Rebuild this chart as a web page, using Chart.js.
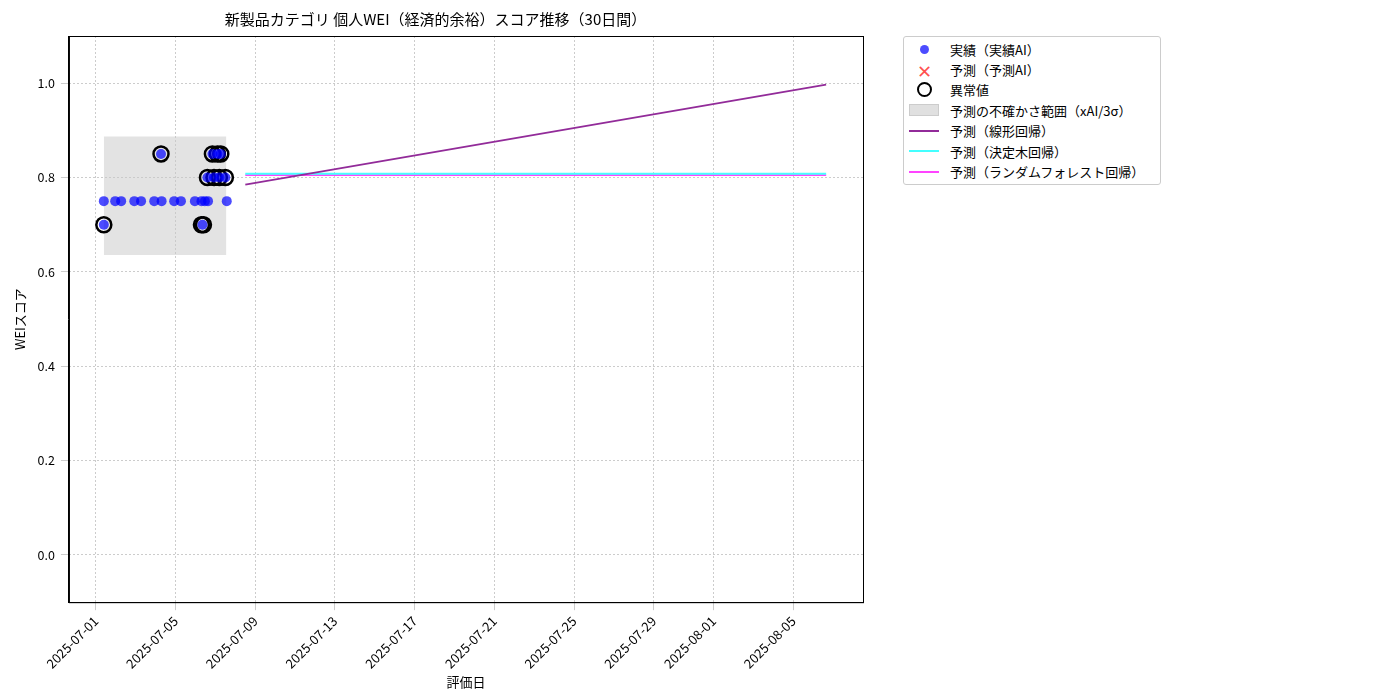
<!DOCTYPE html><html><head><meta charset="utf-8">
<script src="https://cdn.jsdelivr.net/npm/chart.js@4"></script>
<style>body{margin:0;background:#fff;font-family:"Noto Sans CJK JP",sans-serif}
#lg{position:absolute;left:903px;top:36px;width:256px;border:1px solid #ccc;border-radius:3px;padding:2px 0;font-size:13px;background:#fff}
.r{height:20.4px;display:flex;align-items:center}.s{width:40px;display:flex;justify-content:center;margin-right:6px}</style></head><body>
<div style="position:relative;width:1400px;height:700px"><canvas id="c" width="1400" height="700"></canvas>
<div id="lg">
<div class="r"><div class="s"><span style="width:9px;height:9px;border-radius:50%;background:rgba(0,0,255,0.7)"></span></div>実績（実績AI）</div>
<div class="r"><div class="s"><span style="color:rgba(255,0,0,0.7);font-size:18px;line-height:10px">✕</span></div>予測（予測AI）</div>
<div class="r"><div class="s"><span style="width:11px;height:11px;border-radius:50%;border:2.5px solid #000"></span></div>異常値</div>
<div class="r"><div class="s"><span style="width:28px;height:10px;background:#e0e0e0;border:1px solid #ccc"></span></div>予測の不確かさ範囲（xAI/3σ）</div>
<div class="r"><div class="s"><span style="width:30px;height:2px;background:#922b99"></span></div>予測（線形回帰）</div>
<div class="r"><div class="s"><span style="width:30px;height:2px;background:#4ff"></span></div>予測（決定木回帰）</div>
<div class="r"><div class="s"><span style="width:30px;height:2px;background:#f4f"></span></div>予測（ランダムフォレスト回帰）</div>
</div></div>
<script>
const startDate=Date.UTC(2025,6,1);
const actualDays=[0.4,0.97,1.27,1.93,2.27,2.93,3.27,3.3,3.93,4.27,4.97,5.3,5.35,5.47,5.63,5.6,5.85,5.93,6.1,6.2,6.27,6.5,6.57,0.4];
const actualVals=[0.75,0.75,0.75,0.75,0.75,0.75,0.85,0.75,0.75,0.75,0.75,0.75,0.70,0.75,0.75,0.80,0.85,0.80,0.85,0.80,0.85,0.80,0.75,0.70];
const outDays=[0.4,3.27,5.3,5.4,5.6,5.85,5.93,6.1,6.2,6.27,6.5];
const outVals=[0.70,0.85,0.70,0.70,0.80,0.85,0.80,0.85,0.80,0.85,0.80];
const bandDays=[0.4,6.55];const bandHigh=0.887;const bandLow=0.636;
const predDays=[7.5,36.65];
const linVals=[0.785,0.997];const treeVals=[0.808,0.808];const rfVals=[0.805,0.805];
const tickDays=[0,4,8,12,16,20,24,28,31,35];
const xy=(d,v)=>d.map((x,i)=>({x,y:v[i]}));
const fmt=d=>{const t=new Date(startDate+d*864e5);return t.toISOString().slice(0,10)};
const F="'Noto Sans CJK JP'";
const frame={id:'frame',afterDraw(c){const a=c.chartArea,x=c.ctx;x.save();x.strokeStyle='#000';x.lineWidth=1;x.strokeRect(a.left+0.5,a.top+0.5,a.right-a.left,a.bottom-a.top);x.restore();}};
new Chart(document.getElementById('c'),{data:{datasets:[
{type:'line',order:7,data:xy(bandDays,[bandHigh,bandHigh]),borderWidth:0,pointRadius:0,fill:'+1',backgroundColor:'rgba(200,200,200,0.5)'},
{type:'line',order:6,data:xy(bandDays,[bandLow,bandLow]),borderWidth:0,pointRadius:0},
{type:'scatter',order:1,data:xy(actualDays,actualVals),pointRadius:5,backgroundColor:'rgba(0,0,255,0.7)',borderWidth:0},
{type:'scatter',order:2,data:xy(outDays,outVals),pointRadius:7.5,backgroundColor:'transparent',borderColor:'#000',borderWidth:2.5},
{type:'line',order:3,data:xy(predDays,linVals),borderColor:'#922b99',borderWidth:1.8,pointRadius:0},
{type:'line',order:4,data:xy(predDays,treeVals),borderColor:'#4ff',borderWidth:1.8,pointRadius:0},
{type:'line',order:5,data:xy(predDays,rfVals),borderColor:'#f4f',borderWidth:1.8,pointRadius:0}]},
plugins:[frame],
options:{responsive:false,animation:false,layout:{padding:{right:537,top:0,left:8,bottom:10}},
plugins:{legend:{display:false},tooltip:{enabled:false},title:{display:true,text:'新製品カテゴリ 個人WEI（経済的余裕）スコア推移（30日間）',font:{family:F,size:15,weight:'normal'},color:'#000',padding:{top:10,bottom:8}}},
scales:{x:{type:'linear',min:-1.35,max:38.5,afterBuildTicks:a=>{a.ticks=tickDays.map(v=>({value:v}))},
ticks:{callback:v=>fmt(v),maxRotation:45,minRotation:45,color:'#000',font:{family:F,size:13},autoSkip:false},
grid:{color:'#ccc'},border:{color:'#000',dash:[2,2]},title:{display:true,text:'評価日',font:{family:F,size:13},color:'#000',padding:0}},
y:{min:-0.1,max:1.1,afterBuildTicks:a=>{a.ticks=[0,0.2,0.4,0.6,0.8,1].map(v=>({value:v}))},
ticks:{callback:v=>v.toFixed(1),color:'#000',font:{family:F,size:12.5},padding:6},grid:{color:'#ccc'},border:{color:'#000',dash:[2,2]},
title:{display:true,text:'WEIスコア',font:{family:F,size:13},color:'#000'}}}}});
</script></body></html>
